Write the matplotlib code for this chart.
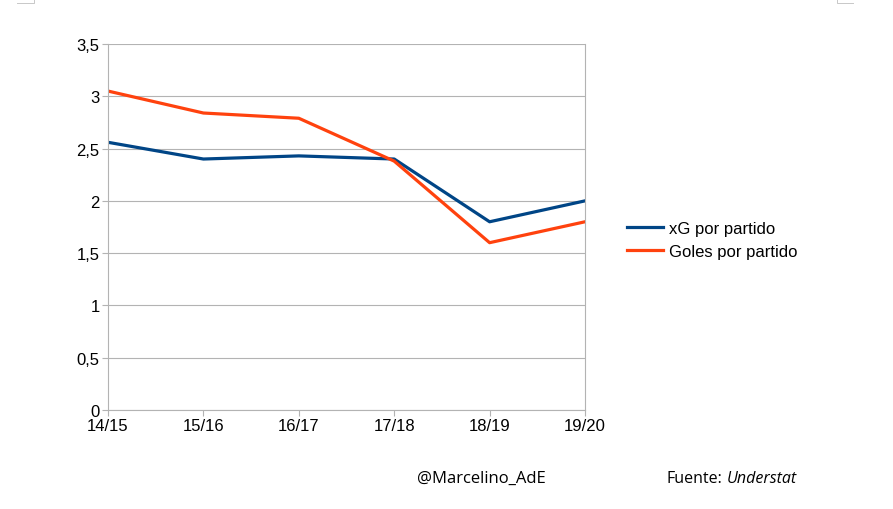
import matplotlib.pyplot as plt
from matplotlib.lines import Line2D
from matplotlib.ticker import MultipleLocator, FuncFormatter

temporadas = ['14/15', '15/16', '16/17', '17/18', '18/19', '19/20']
xg_partido = [2.56, 2.40, 2.43, 2.40, 1.80, 2.00]
goles_partido = [3.05, 2.84, 2.79, 2.38, 1.60, 1.80]

plt.rcParams['font.family'] = ['Liberation Sans', 'DejaVu Sans']

W, H = 893, 510
fig = plt.figure(figsize=(W / 100, H / 100), dpi=100)
ax = fig.add_axes([108 / W, 1 - 411 / H, 477 / W, 366 / H])

x = list(range(len(temporadas)))
ax.plot(x, xg_partido, color='#004586', lw=2.3, label='xG por partido')
ax.plot(x, goles_partido, color='#ff420e', lw=2.3, label='Goles por partido')

ax.set_xlim(0, len(temporadas) - 1)
ax.set_ylim(0, 3.5)
ax.yaxis.set_major_locator(MultipleLocator(0.5))
ax.yaxis.set_major_formatter(FuncFormatter(lambda v, p: f'{v:g}'.replace('.', ',')))
ax.set_xticks(x)
ax.set_xticklabels(temporadas)

ax.grid(axis='y', color='#b3b3b3', lw=0.8)
ax.set_axisbelow(True)
ax.spines['top'].set_visible(False)
for s in ['left', 'right', 'bottom']:
    ax.spines[s].set_color('#b3b3b3')
    ax.spines[s].set_linewidth(0.8)
ax.tick_params(colors='#b3b3b3', length=4, width=0.8, labelcolor='black', labelsize=12)
ax.tick_params(axis='y', pad=2)
ax.tick_params(axis='x', pad=2)

ax.legend(loc='center left', bbox_to_anchor=(1.075, 0.465), frameon=False, fontsize=12,
          handlelength=2.15, handletextpad=0.35, labelspacing=0.45, borderaxespad=0)

# pie de figura
fy = 1 - 479 / H
fig.text(417 / W, fy, '@Marcelino_AdE', fontsize=12, family='Open Sans', va='center')
t = fig.text(667 / W, fy, 'Fuente:', fontsize=11.5, family='Open Sans', va='center')
fig.canvas.draw()
bb = t.get_window_extent()
fig.text((bb.x1 + 4) / W, fy, 'Understat', fontsize=11.5, family='Open Sans',
         style='italic', va='center')

# marcas de esquina de la página
for xs, ys in [([17, 34, 34], [4, 4, 0]), ([853, 837, 837], [4, 4, 0])]:
    fig.add_artist(Line2D([v / W for v in xs], [1 - v / H for v in ys],
                          color='#c8c8c8', lw=0.7, transform=fig.transFigure))

fig.savefig('out.png', dpi=100)
